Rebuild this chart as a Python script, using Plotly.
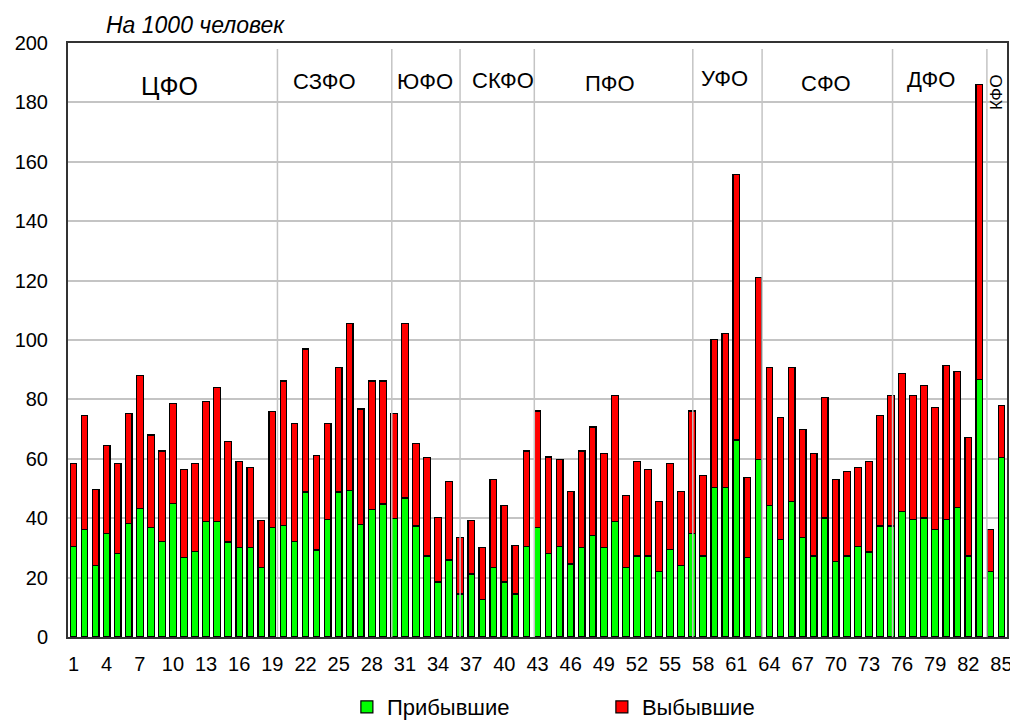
import plotly.graph_objects as go

# region numbers 1..85
regions = list(range(1, 86))

# arrivals per 1000 people (green, lower part of each bar)
arrived = [30.6, 36.3, 24.0, 34.8, 28.1, 38.2, 43.4, 36.8, 32.1, 45.0,
           26.7, 28.7, 38.8, 38.8, 32.0, 30.1, 30.1, 23.3, 36.8, 37.5,
           32.1, 48.8, 29.3, 39.5, 48.8, 49.4, 38.0, 42.8, 44.8, 40.0,
           46.8, 37.4, 27.3, 18.5, 25.9, 14.5, 21.2, 12.5, 23.3, 18.5,
           14.5, 30.6, 36.8, 28.1, 30.6, 24.6, 30.1, 34.1, 30.1, 38.8,
           23.3, 27.3, 27.3, 22.0, 29.4, 24.0, 34.8, 27.3, 50.3, 50.3,
           66.3, 26.7, 59.8, 44.2, 32.9, 45.7, 33.4, 27.3, 40.1, 25.3,
           27.3, 30.6, 28.6, 37.4, 37.4, 42.2, 39.5, 40.1, 36.3, 39.5,
           43.5, 27.3, 86.8, 22.0, 60.4]

# departures per 1000 people (red, stacked on top)
departed = [27.9, 38.4, 25.7, 29.8, 30.4, 37.1, 44.7, 31.2, 30.5, 33.7,
            29.8, 29.8, 40.6, 45.3, 33.9, 29.1, 27.0, 15.9, 39.2, 48.7,
            39.9, 48.2, 31.9, 32.5, 42.0, 56.2, 38.8, 43.4, 41.4, 35.3,
            58.8, 27.8, 33.2, 21.8, 26.5, 19.1, 17.9, 17.7, 29.8, 25.8,
            16.4, 32.0, 39.3, 32.5, 29.2, 24.5, 32.5, 36.6, 31.8, 42.6,
            24.4, 31.9, 29.2, 23.7, 29.1, 25.1, 41.3, 27.1, 50.0, 51.9,
            89.3, 26.9, 61.3, 46.6, 41.1, 45.1, 36.5, 34.6, 40.6, 27.8,
            28.5, 26.5, 30.6, 37.2, 44.0, 46.6, 41.9, 44.6, 41.0, 52.0,
            46.0, 39.9, 99.1, 14.3, 17.6]

tick_vals = [1, 4, 7, 10, 13, 16, 19, 22, 25, 28, 31, 34, 37, 40, 43,
             46, 49, 52, 55, 58, 61, 64, 67, 70, 73, 76, 79, 82, 85]

# federal districts: label, label position (in region units), separator line after
districts = ["ЦФО", "СЗФО", "ЮФО", "СКФО", "ПФО", "УФО", "СФО", "ДФО", "КФО"]
district_x = [9.7, 23.7, 32.8, 39.9, 49.6, 59.9, 69.1, 78.6, 84.5]
district_y = [185.5, 187, 187, 187.3, 186.4, 188, 186.4, 187.6, 183.5]
separators = [19.46, 29.81, 35.99, 42.71, 57.06, 63.33, 75.14, 83.68]

FONT = "Liberation Sans, Arial, sans-serif"

fig = go.Figure()
fig.add_trace(go.Bar(
    x=regions, y=arrived, name="Прибывшие",
    marker=dict(color="#00ff00", line=dict(color="black", width=1.2)),
))
fig.add_trace(go.Bar(
    x=regions, y=departed, name="Выбывшие",
    marker=dict(color="#ff0000", line=dict(color="black", width=1.2)),
))

for sx in separators:
    fig.add_shape(type="line", xref="x", yref="y", x0=sx, x1=sx, y0=0, y1=198,
                  line=dict(color="#c4c4c4", width=1.5), layer="above")

for name, dx, dy in zip(districts, district_x, district_y):
    if name == "КФО":
        fig.add_annotation(x=dx, y=dy, xref="x", yref="y", text=name,
                           showarrow=False, textangle=-90,
                           font=dict(size=17, color="black", family=FONT))
    else:
        fig.add_annotation(x=dx, y=dy, xref="x", yref="y", text=name,
                           showarrow=False,
                           font=dict(size=25 if name == "ЦФО" else 22,
                                     color="black", family=FONT))

fig.add_annotation(x=0.038, y=1.03, xref="paper", yref="paper",
                   text="<i>На 1000 человек</i>", showarrow=False,
                   xanchor="left", yanchor="middle",
                   font=dict(size=23, color="black", family=FONT))

# page body has an 8px margin, so the figure is 8px smaller than the window
fig.update_layout(
    width=1010, height=712,
    barmode="stack", bargap=0.4,
    plot_bgcolor="white", paper_bgcolor="white",
    margin=dict(l=60, r=11, t=35, b=83, autoexpand=False),
    font=dict(family=FONT, color="black"),
    legend=dict(orientation="h", x=0.297, y=-0.118, xanchor="left",
                yanchor="middle", entrywidth=210, entrywidthmode="pixels",
                traceorder="normal",
                font=dict(size=22, color="black", family=FONT)),
)
fig.update_xaxes(range=[0.5, 85.5], tickvals=tick_vals, tickangle=0,
                 showgrid=False, showline=True, mirror=True,
                 linecolor="#333333", linewidth=2, ticks="",
                 ticklabelstandoff=8, automargin=False,
                 tickfont=dict(size=20, color="black", family=FONT))
fig.update_yaxes(range=[0, 200], dtick=20, showgrid=True,
                 gridcolor="#c4c4c4", gridwidth=1.5,
                 showline=True, mirror=True, linecolor="#333333", linewidth=2,
                 ticks="", ticklabelstandoff=14, zeroline=False,
                 automargin=False,
                 tickfont=dict(size=20, color="black", family=FONT))

fig.write_html("out.html")
